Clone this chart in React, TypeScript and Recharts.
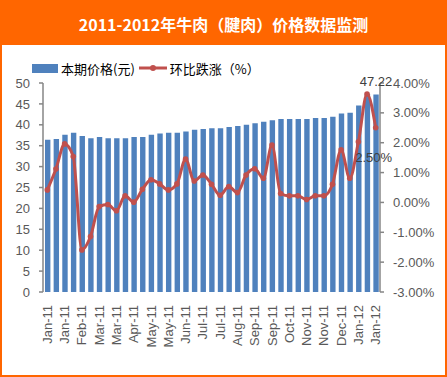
import React from "react";
import {
  ComposedChart,
  Bar,
  Line,
  XAxis,
  YAxis,
  LabelList,
} from "recharts";

// dekad labels (3 per month), only every other one is shown
const periods = [
  "Jan-11", "Jan-11", "Jan-11", "Feb-11", "Feb-11", "Feb-11",
  "Mar-11", "Mar-11", "Mar-11", "Apr-11", "Apr-11", "Apr-11",
  "May-11", "May-11", "May-11", "Jun-11", "Jun-11", "Jun-11",
  "Jul-11", "Jul-11", "Jul-11", "Aug-11", "Aug-11", "Aug-11",
  "Sep-11", "Sep-11", "Sep-11", "Oct-11", "Oct-11", "Oct-11",
  "Nov-11", "Nov-11", "Nov-11", "Dec-11", "Dec-11", "Dec-11",
  "Jan-12", "Jan-12", "Jan-12",
];

const prices = [
  36.4, 36.6, 37.6, 38.1, 37.3, 36.8, 37.1, 36.8, 36.8, 36.8,
  37.1, 37.1, 37.6, 37.9, 38.1, 38.1, 38.4, 38.8, 39.0, 39.2,
  39.2, 39.5, 39.7, 40.0, 40.4, 40.7, 41.1, 41.4, 41.4, 41.4,
  41.4, 41.6, 41.6, 41.9, 42.7, 42.9, 44.6, 47.4, 47.22,
];

const changes = [
  0.42, 1.12, 1.96, 1.54, -1.59, -1.14, -0.14, -0.07, -0.28, 0.22,
  0.01, 0.44, 0.76, 0.62, 0.42, 0.62, 1.45, 0.72, 0.92, 0.61,
  0.24, 0.53, 0.33, 0.92, 1.13, 0.81, 1.92, 0.30, 0.22, 0.22,
  0.10, 0.22, 0.22, 0.61, 1.76, 0.81, 2.03, 3.63, 2.50,
];

const priceTicks = [0, 5, 10, 15, 20, 25, 30, 35, 40, 45, 50];
const changeTicks = [-3, -2, -1, 0, 1, 2, 3, 4];

const data = periods.map((p, i) => ({
  period: p,
  price: prices[i],
  change: changes[i],
}));
const last = data.length - 1;
const boundaryTicks = Array.from({ length: data.length + 1 }, (_, i) => i);

const BAR = "#4F81BD";
const LINE = "#C0504D";
const AXIS = "#868686";
const TICK = "#595959";
const ORANGE = "#FF6600";
const SANS = "'Liberation Sans', Arial, sans-serif";
const CJK = "'Noto Sans CJK SC', 'Liberation Sans', sans-serif";

const RotTick = (props: any) => {
  const { x, y, payload } = props;
  return (
    <text
      x={x}
      y={y}
      transform={`rotate(-90 ${x} ${y})`}
      textAnchor="end"
      dy="0.35em"
      fontSize={13}
      fontFamily={SANS}
      fill={TICK}
    >
      {payload.value}
    </text>
  );
};

export default function App() {
  return (
    <div
      style={{
        position: "absolute",
        left: 0,
        top: 0,
        width: 447,
        height: 377,
        background: "#fff",
        overflow: "hidden",
      }}
    >
      <div
        style={{
          position: "absolute",
          left: 0,
          top: 0,
          width: 447,
          height: 45,
          background: ORANGE,
          color: "#fff",
          fontFamily: CJK,
          fontWeight: 700,
          fontSize: 16,
          lineHeight: "48px",
          textAlign: "center",
        }}
      >
        2011-2012年牛肉（腱肉）价格数据监测
      </div>

      <div
        style={{
          position: "absolute",
          left: 32,
          top: 58,
          display: "flex",
          alignItems: "center",
          fontFamily: CJK,
          fontSize: 13,
          color: "#000",
          whiteSpace: "nowrap",
          height: 20,
        }}
      >
        <span style={{ display: "inline-block", width: 26, height: 9, background: BAR }} />
        <span style={{ marginLeft: 3 }}>本期价格(元)</span>
        <svg width={28} height={10} style={{ marginLeft: 4 }}>
          <line x1={0} y1={5} x2={28} y2={5} stroke={LINE} strokeWidth={3} />
          <circle cx={14} cy={5} r={3} fill={LINE} />
        </svg>
        <span style={{ marginLeft: 3 }}>环比跌涨（%）</span>
      </div>

      <div style={{ position: "absolute", left: 0, top: 0 }}>
        <ComposedChart
          width={447}
          height={377}
          data={data}
          margin={{ top: 83, right: 0, bottom: 0, left: 0 }}
        >
          <XAxis
            xAxisId="tk"
            type="number"
            domain={[0, data.length]}
            ticks={boundaryTicks}
            height={0}
            tick={false}
            tickSize={4}
            axisLine={{ stroke: AXIS, strokeWidth: 1.5 }}
            tickLine={{ stroke: AXIS, strokeWidth: 1.5 }}
          />
          <XAxis
            xAxisId="cat"
            dataKey="period"
            height={85}
            interval={1}
            axisLine={false}
            tickLine={false}
            tickSize={4}
            tickMargin={9}
            tick={<RotTick />}
          />
          <YAxis
            yAxisId="left"
            width={43}
            domain={[0, 50]}
            ticks={priceTicks}
            interval={0}
            tickSize={4}
            tickMargin={9}
            axisLine={{ stroke: AXIS, strokeWidth: 1.5 }}
            tickLine={{ stroke: AXIS, strokeWidth: 1.5 }}
            tick={{ fill: TICK, fontSize: 13, fontFamily: SANS }}
          />
          <YAxis
            yAxisId="right"
            orientation="right"
            width={67}
            domain={[-3, 4]}
            ticks={changeTicks}
            interval={0}
            tickSize={4}
            tickMargin={9}
            tickFormatter={(v: number) => v.toFixed(2) + "%"}
            axisLine={{ stroke: AXIS, strokeWidth: 1.5 }}
            tickLine={{ stroke: AXIS, strokeWidth: 1.5 }}
            tick={{ fill: TICK, fontSize: 13, fontFamily: SANS, textAnchor: "start" }}
          />
          <Bar
            xAxisId="cat"
            yAxisId="left"
            dataKey="price"
            fill={BAR}
            barSize={5.4}
            isAnimationActive={false}
          >
            <LabelList
              dataKey="price"
              content={(p: any) =>
                p.index === last ? (
                  <text
                    x={p.x + p.width / 2}
                    y={p.y - 9}
                    textAnchor="middle"
                    fill="#404040"
                    fontSize={13}
                    fontFamily={SANS}
                  >
                    {p.value.toFixed(2)}
                  </text>
                ) : null
              }
            />
          </Bar>
          <Line
            xAxisId="cat"
            yAxisId="right"
            dataKey="change"
            type="monotone"
            stroke={LINE}
            strokeWidth={3}
            dot={{ r: 2.8, fill: LINE, stroke: LINE, strokeWidth: 0 }}
            activeDot={false}
            isAnimationActive={false}
          >
            <LabelList
              dataKey="change"
              content={(p: any) =>
                p.index === last ? (
                  <text
                    x={p.x - 2}
                    y={p.y + 34}
                    textAnchor="middle"
                    fill="#404040"
                    fontSize={13}
                    fontFamily={SANS}
                  >
                    {p.value.toFixed(2) + "%"}
                  </text>
                ) : null
              }
            />
          </Line>
        </ComposedChart>
      </div>

      <div
        style={{
          position: "absolute",
          left: 0,
          top: 0,
          width: 447,
          height: 377,
          boxSizing: "border-box",
          border: `2px solid ${ORANGE}`,
          pointerEvents: "none",
        }}
      />
    </div>
  );
}
